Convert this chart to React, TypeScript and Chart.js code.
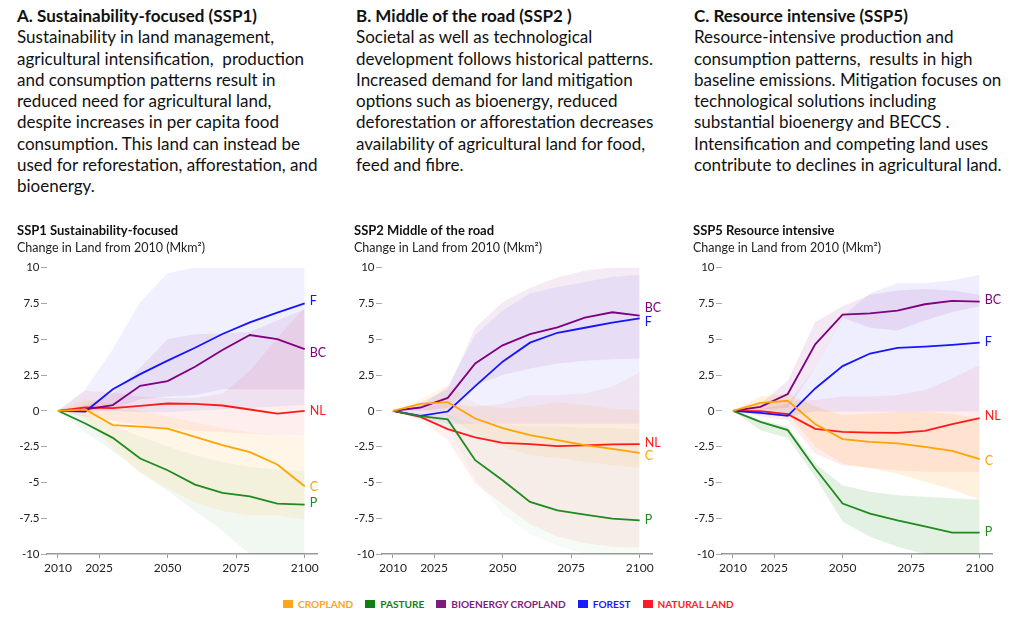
import React, { useEffect, useRef } from "react";
import { Chart, registerables } from "chart.js";
Chart.register(...registerables);

const FONT = "Lato, 'Noto Sans', sans-serif";

const YEARS = [2010, 2020, 2030, 2040, 2050, 2060, 2070, 2080, 2090, 2100];
const X_TICKS = [2010, 2025, 2050, 2075, 2100];
const Y_TICKS = [10, 7.5, 5, 2.5, 0, -2.5, -5, -7.5, -10];

const SERIES_NAMES = ["CROPLAND", "PASTURE", "BIOENERGY CROPLAND", "FOREST", "NATURAL LAND"];
const SERIES_CODES = ["C", "P", "BC", "F", "NL"];
const LINE_COLORS = ["#ffa500", "#1f8a1f", "#800080", "#1515ff", "#ff1a1a"];
const LEGEND_COLORS = ["#ffa51a", "#0f7f12", "#7f1a7f", "#1a1aff", "#ff1a2a"];
const BAND_RGB = ["255,150,0", "0,128,0", "128,0,128", "40,40,255", "255,0,0"];

// ---------- SSP1 ----------
const SSP1_C = [0, 0.09, -1.0, -1.1, -1.24, -1.82, -2.4, -2.89, -3.75, -5.27];
const SSP1_C_HI = [0, 0.8, 0.5, 0.0, -0.4, -0.8, -1.2, -1.5, -1.7, -1.8];
const SSP1_C_LO = [0, -0.5, -2.6, -4.3, -5.4, -6.4, -7.0, -7.3, -7.3, -7.6];
const SSP1_P = [0, -0.89, -1.89, -3.33, -4.15, -5.15, -5.73, -5.97, -6.48, -6.55];
const SSP1_P_HI = [0, -0.3, -1.0, -1.8, -2.5, -3.1, -3.6, -3.9, -4.1, -4.2];
const SSP1_P_LO = [0, -1.5, -2.8, -4.3, -5.6, -7.0, -8.4, -10.0, -10.0, -10.0];
const SSP1_BC = [0, 0.1, 0.4, 1.75, 2.07, 3.08, 4.24, 5.29, 5.0, 4.31];
const SSP1_BC_HI = [0, 0.4, 1.2, 3.0, 5.0, 5.35, 5.4, 5.5, 6.3, 7.1];
const SSP1_BC_LO = [0, 0.0, 0.1, 0.8, 1.0, 1.1, 1.5, 1.5, 1.5, 1.5];
const SSP1_F = [0, -0.05, 1.5, 2.56, 3.5, 4.4, 5.36, 6.18, 6.85, 7.5];
const SSP1_F_HI = [0, 1.5, 4.3, 7.6, 9.6, 10, 10, 10, 10, 10];
const SSP1_F_LO = [0, -0.1, 0.0, -0.1, -0.1, 0.0, 0.1, 0.2, 0.3, 0.4];
const SSP1_NL = [0, 0.23, 0.19, 0.35, 0.51, 0.49, 0.37, 0.09, -0.19, 0];
const SSP1_NL_HI = [0, 1.4, 1.3, 1.0, 0.9, 0.9, 1.2, 2.8, 5.1, 7.2];
const SSP1_NL_LO = [0, -0.4, -0.7, -1.0, -1.2, -1.4, -1.5, -1.6, -1.7, -1.75];
const SSP1_LABEL_Y = [-5.31, -6.43, 4.06, 7.69, 0];

// ---------- SSP2 ----------
const SSP2_C = [0, 0.49, 0.6, -0.54, -1.21, -1.7, -2.05, -2.4, -2.66, -2.94];
const SSP2_C_HI = [0, 0.85, 1.8, 0.5, 0.15, 0.3, 0.6, 0.4, 0.15, 0.05];
const SSP2_C_LO = [0, 0.1, -0.4, -1.6, -2.5, -3.1, -3.3, -3.55, -3.8, -4.0];
const SSP2_P = [0, -0.37, -0.6, -3.45, -4.85, -6.36, -6.95, -7.25, -7.53, -7.65];
const SSP2_P_HI = [0, -0.2, -0.3, -0.9, -1.0, -1.1, -1.1, -1.2, -1.2, -1.3];
const SSP2_P_LO = [0, -0.6, -1.1, -4.8, -7.2, -8.6, -9.4, -10.0, -10.0, -10.0];
const SSP2_BC = [0, 0.23, 0.9, 3.31, 4.57, 5.36, 5.83, 6.5, 6.88, 6.64];
const SSP2_BC_HI = [0, 0.6, 1.5, 5.8, 7.6, 8.6, 9.3, 9.8, 10, 10];
const SSP2_BC_LO = [0, 0.0, 0.2, 1.8, 2.5, 2.95, 3.3, 3.5, 3.6, 3.65];
const SSP2_F = [0, -0.35, -0.05, 1.72, 3.43, 4.76, 5.45, 5.8, 6.15, 6.46];
const SSP2_F_HI = [0, 0.3, 1.7, 5.3, 7.0, 8.2, 8.65, 9.0, 9.35, 9.5];
const SSP2_F_LO = [0, -0.5, -0.9, -0.9, -0.9, -0.9, -0.9, -0.9, -0.9, -0.9];
const SSP2_NL = [0, -0.42, -1.28, -1.86, -2.24, -2.33, -2.47, -2.42, -2.35, -2.33];
const SSP2_NL_HI = [0, 0.3, 0.5, 0.3, 0.5, 1.1, 1.1, 1.2, 1.7, 2.7];
const SSP2_NL_LO = [0, -0.65, -2.05, -5.1, -6.5, -7.9, -8.8, -9.25, -9.5, -9.55];
const SSP2_LABEL_Y = [-3.15, -7.64, 7.16, 6.22, -2.28];

// ---------- SSP5 ----------
const SSP5_C = [0, 0.56, 0.7, -0.93, -1.98, -2.17, -2.28, -2.52, -2.8, -3.38];
const SSP5_C_HI = [0, 1.0, 1.2, 0.3, -0.3, -0.2, -0.07, -0.07, -0.2, -0.55];
const SSP5_C_LO = [0, -0.05, -0.2, -2.5, -3.7, -4.0, -4.4, -4.95, -5.5, -6.2];
const SSP5_P = [0, -0.77, -1.35, -4.03, -6.48, -7.18, -7.65, -8.07, -8.51, -8.51];
const SSP5_P_HI = [0, -0.65, -1.1, -3.7, -5.2, -5.65, -5.9, -6.0, -6.1, -6.2];
const SSP5_P_LO = [0, -1.35, -1.9, -4.6, -7.75, -8.8, -9.5, -10.0, -10.0, -10.0];
const SSP5_BC = [0, 0.28, 1.17, 4.64, 6.71, 6.8, 7.0, 7.44, 7.67, 7.62];
const SSP5_BC_HI = [0, 0.5, 2.1, 6.2, 7.3, 8.1, 8.4, 8.5, 8.4, 8.1];
const SSP5_BC_LO = [0, 0.1, 0.2, 3.0, 6.5, 5.8, 5.6, 6.3, 6.9, 7.3];
const SSP5_F = [0, -0.14, -0.35, 1.56, 3.12, 4.0, 4.4, 4.48, 4.6, 4.76];
const SSP5_F_HI = [0, 0.1, 0.5, 3.0, 6.6, 8.2, 8.9, 8.9, 9.1, 9.5];
const SSP5_F_LO = [0, -0.3, -0.4, -0.05, -0.05, -0.05, -0.05, -0.05, -0.05, -0.05];
const SSP5_NL = [0, -0.02, -0.23, -1.26, -1.47, -1.52, -1.54, -1.4, -0.93, -0.51];
const SSP5_NL_HI = [0, 0.4, 0.7, 0.75, 1.0, 1.0, 1.1, 1.45, 2.25, 3.2];
const SSP5_NL_LO = [0, -0.4, -0.65, -3.0, -3.8, -4.0, -4.15, -4.25, -4.25, -4.25];
const SSP5_LABEL_Y = [-3.52, -8.46, 7.74, 4.83, -0.35];

const PANELS = [
  {
    title: "SSP1 Sustainability-focused",
    medians: [SSP1_C, SSP1_P, SSP1_BC, SSP1_F, SSP1_NL],
    highs: [SSP1_C_HI, SSP1_P_HI, SSP1_BC_HI, SSP1_F_HI, SSP1_NL_HI],
    lows: [SSP1_C_LO, SSP1_P_LO, SSP1_BC_LO, SSP1_F_LO, SSP1_NL_LO],
    labelY: SSP1_LABEL_Y,
    bandAlpha: [0.09, 0.055, 0.08, 0.07, 0.065],
    areaLeft: 47,
    yW: 30,
  },
  {
    title: "SSP2 Middle of the road",
    medians: [SSP2_C, SSP2_P, SSP2_BC, SSP2_F, SSP2_NL],
    highs: [SSP2_C_HI, SSP2_P_HI, SSP2_BC_HI, SSP2_F_HI, SSP2_NL_HI],
    lows: [SSP2_C_LO, SSP2_P_LO, SSP2_BC_LO, SSP2_F_LO, SSP2_NL_LO],
    labelY: SSP2_LABEL_Y,
    bandAlpha: [0.08, 0.035, 0.08, 0.07, 0.06],
    areaLeft: 382,
    yW: 28,
  },
  {
    title: "SSP5 Resource intensive",
    medians: [SSP5_C, SSP5_P, SSP5_BC, SSP5_F, SSP5_NL],
    highs: [SSP5_C_HI, SSP5_P_HI, SSP5_BC_HI, SSP5_F_HI, SSP5_NL_HI],
    lows: [SSP5_C_LO, SSP5_P_LO, SSP5_BC_LO, SSP5_F_LO, SSP5_NL_LO],
    labelY: SSP5_LABEL_Y,
    bandAlpha: [0.13, 0.11, 0.09, 0.08, 0.07],
    areaLeft: 722,
    yW: 29,
  },
];

const HEADERS = [
  {
    left: 17,
    title: "A. Sustainability-focused (SSP1)",
    lines: [
      "Sustainability in land management,",
      "agricultural intensification,  production",
      "and consumption patterns result in",
      "reduced need for agricultural land,",
      "despite increases in per capita food",
      "consumption. This land can instead be",
      "used for reforestation, afforestation, and",
      "bioenergy.",
    ],
  },
  {
    left: 356,
    title: "B. Middle of the road (SSP2 )",
    lines: [
      "Societal as well as technological",
      "development follows historical patterns.",
      "Increased demand for land mitigation",
      "options such as bioenergy, reduced",
      "deforestation or afforestation decreases",
      "availability of agricultural land for food,",
      "feed and fibre.",
    ],
  },
  {
    left: 694,
    title: "C. Resource intensive (SSP5)",
    lines: [
      "Resource-intensive production and",
      "consumption patterns,  results in high",
      "baseline emissions. Mitigation focuses on",
      "technological solutions including",
      "substantial bioenergy and BECCS .",
      "Intensification and competing land uses",
      "contribute to declines in agricultural land.",
    ],
  },
];

const CHART_AREA_W = 270;
const RIGHT_PAD = 14;
const CANVAS_TOP = 220;
const CANVAS_H = 365;

const endLabels = {
  id: "endLabels",
  afterDatasetsDraw(chart: any, _args: any, opts: any) {
    const { ctx } = chart;
    const x = chart.scales.x;
    const y = chart.scales.y;
    ctx.save();
    ctx.font = `12.5px ${FONT}`;
    ctx.textBaseline = "middle";
    ctx.textAlign = "left";
    SERIES_CODES.forEach((code, i) => {
      ctx.fillStyle = LINE_COLORS[i];
      ctx.fillText(
        code,
        x.getPixelForValue(YEARS[YEARS.length - 1]) + 5,
        y.getPixelForValue(opts.labelY[i])
      );
    });
    ctx.restore();
  },
};

function Panel({ cfg }: { cfg: any }) {
  const ref = useRef<HTMLCanvasElement | null>(null);
  useEffect(() => {
    if (!ref.current) return;
    const pts = (arr: number[]) => YEARS.map((yr, k) => ({ x: yr, y: arr[k] }));
    const datasets: any[] = [];
    cfg.medians.forEach((m: number[], i: number) => {
      datasets.push({
        label: SERIES_NAMES[i],
        data: pts(m),
        borderColor: LINE_COLORS[i],
        borderWidth: 1.8,
        pointRadius: 0,
        fill: false,
        tension: 0,
        order: 0,
      });
    });
    cfg.highs.forEach((h: number[], i: number) => {
      datasets.push({
        label: SERIES_NAMES[i] + " high",
        data: pts(h),
        borderColor: "transparent",
        borderWidth: 0,
        pointRadius: 0,
        backgroundColor: `rgba(${BAND_RGB[i]},${cfg.bandAlpha[i]})`,
        fill: "+1",
        tension: 0,
        order: 1,
      });
      datasets.push({
        label: SERIES_NAMES[i] + " low",
        data: pts(cfg.lows[i]),
        borderColor: "transparent",
        borderWidth: 0,
        pointRadius: 0,
        fill: false,
        tension: 0,
        order: 1,
      });
    });

    const chart = new Chart(ref.current, {
      type: "line",
      data: { datasets },
      plugins: [endLabels as any],
      options: {
        responsive: false,
        animation: false,
        events: [],
        layout: { padding: { left: 0, right: RIGHT_PAD, top: 0, bottom: 0 } },
        plugins: {
          legend: { display: false },
          tooltip: { enabled: false },
          title: {
            display: true,
            text: cfg.title,
            align: "start",
            color: "#111",
            font: { family: FONT, size: 13, weight: "bold" },
            padding: { top: 3.5, bottom: 0 },
          },
          subtitle: {
            display: true,
            text: "Change in Land from 2010 (Mkm²)",
            align: "start",
            color: "#222",
            font: { family: FONT, size: 12.5 },
            padding: { top: 1, bottom: 12.5 },
          },
          endLabels: { labelY: cfg.labelY },
        } as any,
        scales: {
          x: {
            type: "linear",
            min: 2006,
            max: 2104.5,
            afterBuildTicks: (axis: any) => {
              axis.ticks = X_TICKS.map((v) => ({ value: v }));
            },
            afterFit: (axis: any) => {
              axis.height = 31;
            },
            ticks: {
              color: "#222",
              font: { family: FONT, size: 12 },
              padding: 3,
              maxRotation: 0,
              autoSkip: false,
              callback: (v: any) => String(v),
            },
            grid: {
              drawOnChartArea: false,
              drawTicks: true,
              tickLength: 4,
              color: "#999",
            },
            border: { display: true, color: "#999", width: 1.5 },
          },
          y: {
            type: "linear",
            min: -10,
            max: 10,
            afterBuildTicks: (axis: any) => {
              axis.ticks = Y_TICKS.map((v) => ({ value: v }));
            },
            afterFit: (axis: any) => {
              axis.width = cfg.yW;
            },
            ticks: {
              color: "#222",
              font: { family: FONT, size: 11.5 },
              padding: 1.5,
              callback: (v: any) => String(v),
            },
            grid: {
              drawOnChartArea: false,
              drawTicks: true,
              tickLength: 6,
              color: "#aaa",
            },
            border: { display: false },
          },
        },
      } as any,
    });
    return () => chart.destroy();
  }, []);
  return (
    <canvas
      ref={ref}
      width={cfg.yW + CHART_AREA_W + RIGHT_PAD}
      height={CANVAS_H}
      style={{ position: "absolute", left: cfg.areaLeft - cfg.yW, top: CANVAS_TOP }}
    />
  );
}

export default function App() {
  return (
    <div
      style={{
        position: "absolute",
        left: 0,
        top: 0,
        width: 1024,
        height: 624,
        background: "#fff",
        fontFamily: FONT,
        color: "#111",
        overflow: "hidden",
      }}
    >
      {HEADERS.map((h, i) => (
        <div
          key={i}
          style={{
            position: "absolute",
            left: h.left,
            top: 5,
            fontSize: 17,
            lineHeight: "21.3px",
            whiteSpace: "pre",
          }}
        >
          <div style={{ fontWeight: 700 }}>{h.title}</div>
          {h.lines.map((l, k) => (
            <div key={k}>{l}</div>
          ))}
        </div>
      ))}
      {PANELS.map((p, i) => (
        <Panel key={i} cfg={p} />
      ))}
      <div
        style={{
          position: "absolute",
          left: 283,
          top: 598,
          display: "flex",
          alignItems: "center",
          gap: 12,
          fontSize: 10.1,
          fontWeight: 700,
          whiteSpace: "nowrap",
        }}
      >
        {SERIES_NAMES.map((n, i) => (
          <div key={i} style={{ display: "flex", alignItems: "center", color: LEGEND_COLORS[i] }}>
            <span
              style={{
                display: "inline-block",
                width: 10,
                height: 8,
                background: LEGEND_COLORS[i],
                marginRight: 5,
              }}
            />
            <span>{n}</span>
          </div>
        ))}
      </div>
    </div>
  );
}
